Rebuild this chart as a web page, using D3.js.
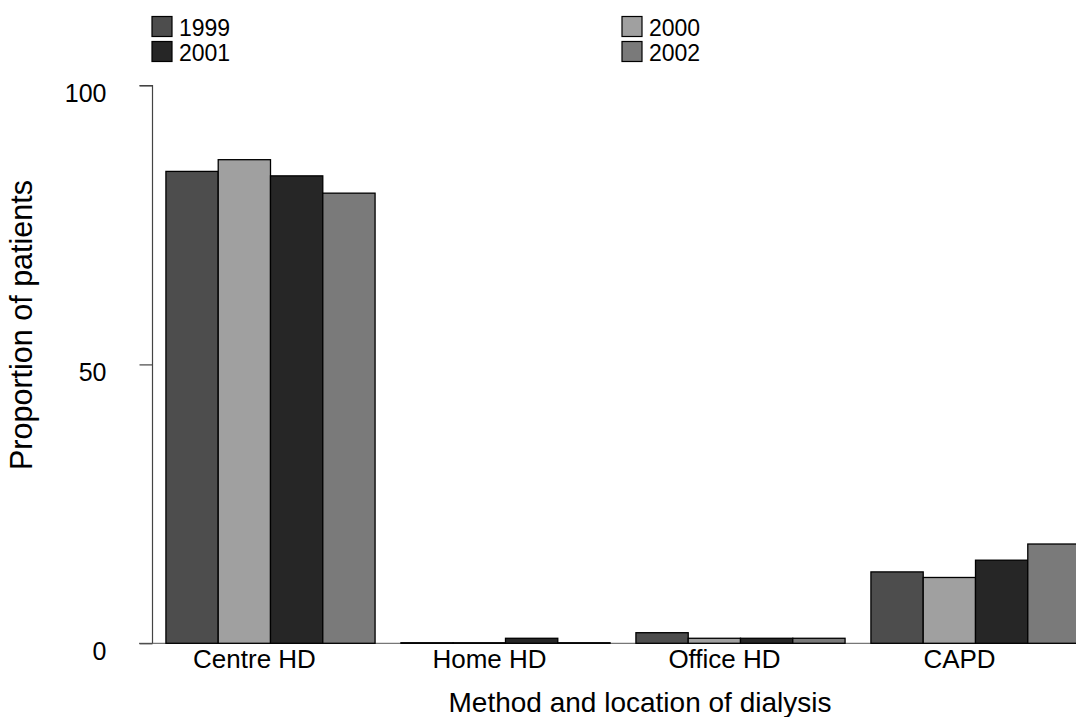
<!DOCTYPE html>
<html><head><meta charset="utf-8">
<script src="https://cdn.jsdelivr.net/npm/d3@7"></script>
<style>body{margin:0;background:#fff}svg{display:block}text{font-family:"Liberation Sans",Arial,sans-serif;fill:#000}</style>
</head><body>
<svg id="c" width="1076" height="717"></svg>
<script>
const categories = ["Centre HD","Home HD","Office HD","CAPD"];
const years = ["1999","2000","2001","2002"];
const v1999 = [84.6, 0.1, 1.9, 12.8];
const v2000 = [86.7, 0.1, 0.9, 11.8];
const v2001 = [83.8, 0.9, 0.9, 14.9];
const v2002 = [80.7, 0.1, 0.9, 17.8];
const yTicks = [0, 50, 100];
const colors = ["#4d4d4d","#a0a0a0","#262626","#7a7a7a"];

const series = [v1999, v2000, v2001, v2002];
const svg = d3.select("#c");
const y = d3.scaleLinear().domain([0,100]).range([643.3, 85.5]);
const x = d3.scaleBand().domain(categories).range([153, 1093]).paddingInner(0.11).paddingOuter(0.055);
const xi = d3.scaleBand().domain(years).range([0, x.bandwidth()]);

// x baseline
svg.append("line").attr("x1",139).attr("x2",1076).attr("y1",y(0)).attr("y2",y(0))
  .attr("stroke","#777").attr("stroke-width",1.2);

// bars
const data = [];
categories.forEach((c,i)=>years.forEach((yr,j)=>data.push({c, yr, v: series[j][i], col: colors[j]})));
svg.append("g").selectAll("rect").data(data).join("rect")
  .attr("x", d=>x(d.c)+xi(d.yr))
  .attr("y", d=>y(d.v))
  .attr("width", xi.bandwidth())
  .attr("height", d=>y(0)-y(d.v))
  .attr("fill", d=>d.col)
  .attr("stroke","#000").attr("stroke-width",1.3);

// y axis
const ya = svg.append("g").attr("transform","translate(152.5,0)")
  .call(d3.axisLeft(y).tickValues(yTicks).tickSize(13).tickPadding(32).tickFormat(d3.format("d")));
ya.select(".domain").attr("stroke","#444").attr("stroke-width",1.2).attr("d", `M-13,${y(100)}H0V${y(0)}`);
ya.selectAll(".tick line").attr("stroke","#444").attr("stroke-width",1.2);
ya.selectAll(".tick text").attr("font-size",25).attr("dy","16px").attr("text-anchor","end").attr("x",-46);

// category labels
svg.append("g").selectAll("text").data(categories).join("text")
  .attr("x", d=>x(d)+x.bandwidth()/2-16).attr("y",668)
  .attr("text-anchor","middle").attr("font-size",26).text(d=>d);

// axis titles
svg.append("text").attr("x",640).attr("y",712).attr("text-anchor","middle")
  .attr("font-size",28).text("Method and location of dialysis");
svg.append("text").attr("transform","translate(32,325) rotate(-90)").attr("text-anchor","middle")
  .attr("font-size",30.5).text("Proportion of patients");

// legend
const legPos = [[152,16.5],[622,16.5],[152,41.5],[622,41.5]];
const lg = svg.append("g").selectAll("g").data(years).join("g")
  .attr("transform",(d,i)=>`translate(${legPos[i][0]},${legPos[i][1]})`);
lg.append("rect").attr("width",20).attr("height",20).attr("fill",(d,i)=>colors[i]).attr("stroke","#000").attr("stroke-width",1.2);
lg.append("text").attr("x",27).attr("y",19).attr("font-size",23).text(d=>d);
</script>
</body></html>
